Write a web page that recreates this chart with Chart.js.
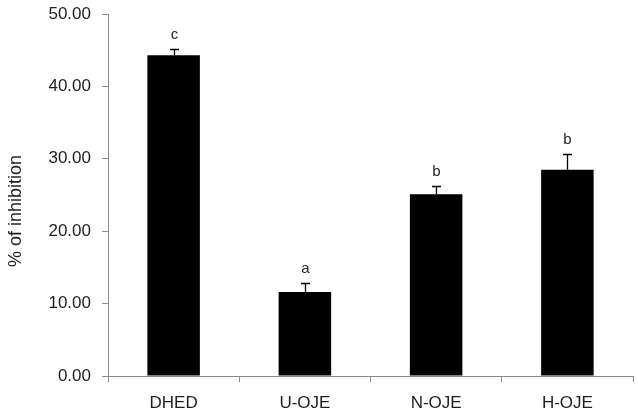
<!DOCTYPE html>
<html><head><meta charset="utf-8">
<script src="https://cdn.jsdelivr.net/npm/chart.js@4"></script>
<style>html,body{margin:0;padding:0;background:#fff}#wrap{width:638px;height:414px}</style>
</head><body><div id="wrap"><canvas id="c" width="638" height="414"></canvas></div>
<script>
const categories = ["DHED", "U-OJE", "N-OJE", "H-OJE"];
const values = [44.3, 11.6, 25.1, 28.5];
const errors = [0.9, 1.2, 1.1, 2.1];
const letters = ["c", "a", "b", "b"];
const yTicks = [0, 10, 20, 30, 40, 50];
const yTitle = "% of inhibition";

const FONT = '"Liberation Sans", Arial, sans-serif';
const axisColor = '#8a8a8a';
const textColor = '#1e1e1e';
const errPlugin = {
  id: 'errbars',
  afterDatasetsDraw(chart) {
    const ctx = chart.ctx;
    const meta = chart.getDatasetMeta(0);
    const y = chart.scales.y;
    ctx.save();
    ctx.strokeStyle = '#000';
    ctx.lineWidth = 1.3;
    ctx.fillStyle = textColor;
    ctx.font = '15px ' + FONT;
    ctx.textAlign = 'center';
    ctx.textBaseline = 'alphabetic';
    meta.data.forEach((bar, i) => {
      const x = Math.round(bar.x) + 0.5;
      const y0 = y.getPixelForValue(values[i]);
      const y1 = y.getPixelForValue(values[i] + errors[i]);
      ctx.beginPath();
      ctx.moveTo(x, y0); ctx.lineTo(x, y1);
      ctx.moveTo(x - 4.5, Math.round(y1) + 0.5); ctx.lineTo(x + 4.5, Math.round(y1) + 0.5);
      ctx.stroke();
      ctx.fillText(letters[i], x, y1 - 10);
    });
    // y-axis title
    ctx.translate(16, 211);
    ctx.rotate(-Math.PI / 2);
    ctx.font = '18px ' + FONT;
    ctx.textBaseline = 'middle';
    ctx.fillText(yTitle, 0, 0);
    ctx.restore();
  }
};

new Chart(document.getElementById('c'), {
  type: 'bar',
  data: {
    labels: categories,
    datasets: [{ data: values, backgroundColor: '#000', borderWidth: 0,
      categoryPercentage: 1.0, barPercentage: 0.4 }]
  },
  options: {
    responsive: false,
    animation: false,
    layout: { padding: { left: 0, right: 5, top: 14, bottom: 0 } },
    plugins: { legend: { display: false }, tooltip: { enabled: false } },
    scales: {
      x: {
        offset: true,
        grid: { offset: true, drawOnChartArea: false, drawTicks: true, tickLength: 6, color: axisColor },
        border: { display: true, color: axisColor, width: 1 },
        ticks: { color: textColor, font: { family: FONT, size: 17 }, padding: 11 },
        afterFit(s) { s.height = 38; s.paddingLeft = 0; s.paddingRight = 0; }
      },
      y: {
        min: 0, max: 50,
        afterBuildTicks(s) { s.ticks = yTicks.map(v => ({ value: v })); },
        grid: { drawOnChartArea: false, drawTicks: true, tickLength: 6, color: axisColor },
        border: { display: true, color: axisColor, width: 1 },
        ticks: { color: textColor, font: { family: FONT, size: 17 }, padding: 11,
          callback: v => Number(v).toFixed(2) },
        afterFit(s) { s.width = 108; s.paddingTop = 0; s.paddingBottom = 0; }
      }
    }
  },
  plugins: [errPlugin]
});
</script></body></html>
